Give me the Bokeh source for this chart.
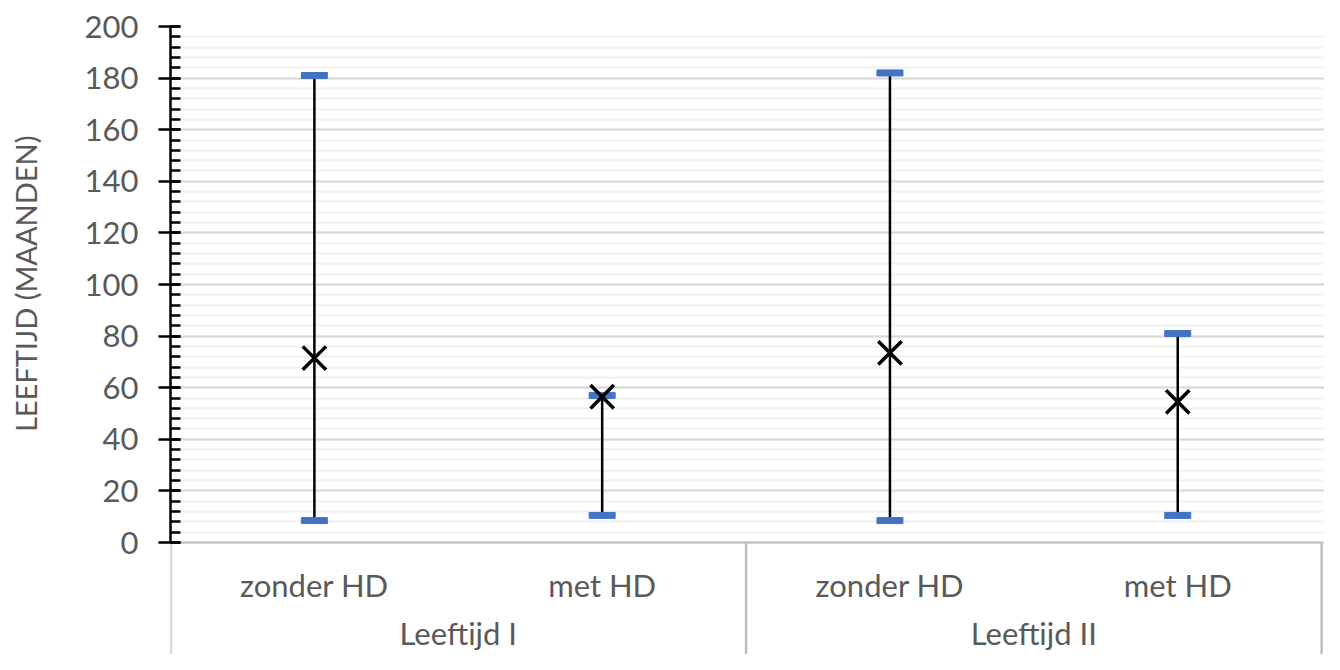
import numpy as np
from bokeh.plotting import figure
from bokeh.layouts import row
from bokeh.models import Range1d, SingleIntervalTicker, ColumnDataSource
from bokeh.embed import file_html
from bokeh.resources import INLINE
from bokeh.core.properties import value

# ---- data ----
groups = ["Leeftijd I", "Leeftijd II"]
subgroups = ["zonder HD", "met HD", "zonder HD", "met HD"]
max_vals = [181, 57, 182, 81]
min_vals = [8.5, 10.5, 8.5, 10.5]
mean_vals = [71.5, 56.5, 73.5, 54.5]
y_title = "LEEFTIJD (MAANDEN)"

FONT = "Lato"
GRAY_TXT = "#595959"
CAP_BLUE = "#4472C4"
DIV_GRAY = "#bfbfbf"

TOTAL_W, TOTAL_H = 1324, 654
LEFT_W = 60
TOP = 26

y_top = 200
px_per_unit = 516 / 200.0
frame_h = TOTAL_H - TOP
y_bottom = y_top - frame_h / px_per_unit

n = len(subgroups)
xs = [i + 0.5 for i in range(n)]

# ---- title strip (left) ----
t = figure(width=LEFT_W, height=TOTAL_H, output_backend="svg", toolbar_location=None,
           x_range=Range1d(0, LEFT_W), y_range=Range1d(0, TOTAL_H),
           x_axis_type=None, y_axis_type=None,
           min_border=0, min_border_left=0, min_border_right=0, min_border_top=0, min_border_bottom=0)
t.outline_line_color = None
t.grid.visible = False
t.text(x=[25], y=[TOTAL_H - 268], text=[y_title], angle=np.pi / 2,
       text_font=value(FONT), text_font_size="29px", text_color=GRAY_TXT,
       text_align="center", text_baseline="middle")

# ---- main chart ----
p = figure(width=TOTAL_W - LEFT_W, height=TOTAL_H, output_backend="svg", toolbar_location=None,
           x_range=Range1d(0, n + 0.01), y_range=Range1d(y_bottom, y_top),
           min_border_left=170 - LEFT_W, min_border_top=TOP, min_border_bottom=0, min_border_right=0)
p.outline_line_color = None
p.xaxis.visible = False
p.xgrid.visible = False

ya = p.yaxis[0]
ya.ticker = SingleIntervalTicker(interval=20, num_minor_ticks=5)
ya.bounds = (0, 200)
ya.axis_line_color = "black"
ya.axis_line_width = 2.5
ya.major_tick_line_color = "black"
ya.major_tick_line_width = 2.5
ya.major_tick_in = 10
ya.major_tick_out = 12
ya.minor_tick_line_color = "black"
ya.minor_tick_line_width = 2.5
ya.minor_tick_in = 10
ya.minor_tick_out = 0
ya.major_label_text_font = FONT
ya.major_label_text_font_size = "31px"
ya.major_label_text_color = GRAY_TXT
ya.major_label_standoff = 20

yg = p.ygrid[0]
yg.ticker = SingleIntervalTicker(interval=20, num_minor_ticks=5)
yg.bounds = (0, 200)
yg.grid_line_color = "#d9d9d9"
yg.grid_line_width = 2
yg.minor_grid_line_color = "#f0f0f0"
yg.minor_grid_line_width = 2

# category axis box
p.segment(x0=[0], y0=[0], x1=[n], y1=[0], line_color=DIV_GRAY, line_width=2)
div_x = [0, 2, 4]
p.segment(x0=div_x, y0=[0] * 3, x1=div_x, y1=[y_bottom] * 3, line_color=DIV_GRAY, line_width=2.5)

sub_y = -(584 - 542) / px_per_unit
grp_y = -(632 - 542) / px_per_unit

src = ColumnDataSource(dict(x=xs, lo=min_vals, hi=max_vals, mean=mean_vals, sub=subgroups,
                            ly=[sub_y] * n))
p.segment(x0="x", y0="lo", x1="x", y1="hi", source=src, line_color="black", line_width=2.5)
p.rect(x="x", y="hi", width=26, height=6, width_units="screen", height_units="screen",
       source=src, fill_color=CAP_BLUE, line_color=CAP_BLUE, line_width=1)
p.rect(x="x", y="lo", width=26, height=6, width_units="screen", height_units="screen",
       source=src, fill_color=CAP_BLUE, line_color=CAP_BLUE, line_width=1)
p.scatter(x="x", y="mean", marker="x", size=33, source=src, line_color="black", line_width=3.5)

# category labels
p.text(x="x", y="ly", text="sub", source=src, text_font=value(FONT),
       text_font_size="31px", text_color=GRAY_TXT, text_align="center", text_baseline="middle")
gx = [1, 3]
p.text(x=gx, y=[grp_y] * 2, text=groups, text_font=value(FONT),
       text_font_size="31px", text_color=GRAY_TXT, text_align="center", text_baseline="middle")

layout = row(t, p, spacing=0)
open("out.html", "w").write(file_html(layout, INLINE))
